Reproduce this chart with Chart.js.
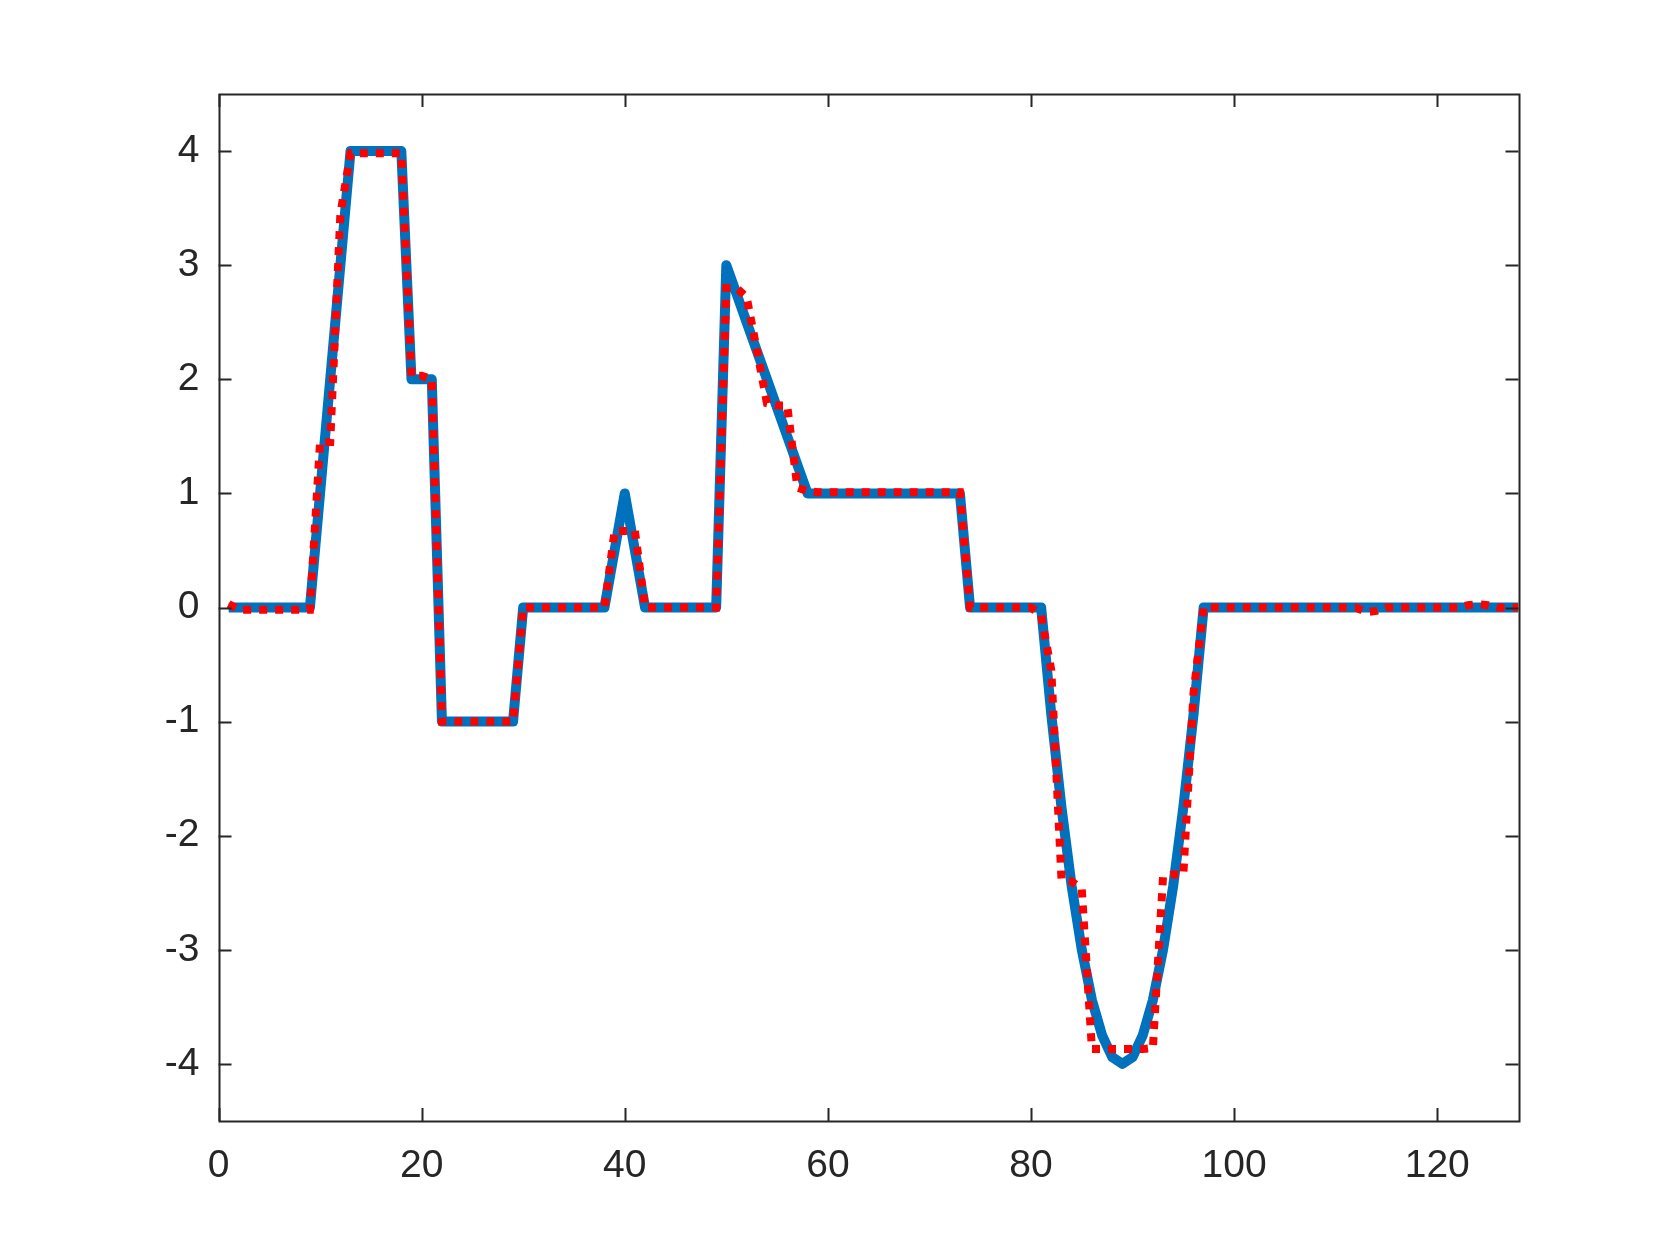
<!DOCTYPE html>
<html>
<head>
<meta charset="utf-8">
<script src="https://cdn.jsdelivr.net/npm/chart.js@4.4.1/dist/chart.umd.min.js"></script>
<style>
  html, body { margin: 0; padding: 0; background: #fff; }
  #wrap { width: 1680px; height: 1260px; }
</style>
</head>
<body>
<div id="wrap"><canvas id="plot" width="1680" height="1260"></canvas></div>
<script>
// Original test signal, samples 1..128
const originalSignal = [
  0, 0, 0, 0, 0, 0, 0, 0, 0,
  1, 2, 3, 4,
  4, 4, 4, 4, 4,
  2, 2, 2,
  -1, -1, -1, -1, -1, -1, -1, -1,
  0, 0, 0, 0, 0, 0, 0, 0, 0,
  0.5, 1, 0.5,
  0, 0, 0, 0, 0, 0, 0, 0,
  3, 2.75, 2.5, 2.25, 2, 1.75, 1.5, 1.25, 1,
  1, 1, 1, 1, 1, 1, 1, 1, 1, 1, 1, 1, 1, 1, 1,
  0, 0, 0, 0, 0, 0, 0, 0,
  -0.94, -1.75, -2.44, -3, -3.44, -3.75, -3.94, -4, -3.94, -3.75, -3.44, -3, -2.44, -1.75, -0.94,
  0, 0, 0, 0, 0, 0, 0, 0, 0, 0, 0, 0, 0, 0, 0, 0,
  0, 0, 0, 0, 0, 0, 0, 0, 0, 0, 0, 0, 0, 0, 0, 0
];

// Reconstructed (approximated) signal, samples 1..128
const approxSignal = [
  0.03, -0.02, -0.02, -0.02, -0.02, -0.02, -0.02, -0.02, -0.02,
  1.45, 1.45, 3.45, 3.98,
  3.98, 3.98, 3.98, 3.98, 3.98,
  2.03, 2.03, 2.0,
  -1, -1, -1, -1, -1, -1, -1, -1,
  0, 0, 0, 0, 0, 0, 0, 0, 0,
  0.67, 0.67, 0.67,
  0, 0, 0, 0, 0, 0, 0, 0,
  2.8, 2.8, 2.72, 2.26, 1.79, 1.77, 1.77, 1.05, 1.02,
  1.01, 1.01, 1.01, 1.01, 1.01, 1.01, 1.01, 1.01, 1.01, 1.01, 1.01, 1.01, 1.01, 1.01, 1.01,
  0, 0, 0, 0, 0, 0, 0, -0.07,
  -0.55, -2.38, -2.4, -2.47, -3.87, -3.87, -3.87, -3.87, -3.87, -3.87, -3.86, -2.36, -2.34, -2.34, -0.75,
  0, 0, 0, 0, 0, 0, 0, 0, 0, 0, 0, 0, 0, 0, 0, 0,
  -0.04, -0.03, 0, 0, 0, 0, 0, 0, 0, 0, 0.02, 0.03, 0.02, 0, 0, 0
];

const xTickValues = [0, 20, 40, 60, 80, 100, 120];
const yTickValues = [-4, -3, -2, -1, 0, 1, 2, 3, 4];
const xRange = [0, 128];
const yRange = [-4.5, 4.5];

const axisColor = '#262626';
const labelFont = { family: '"Liberation Sans", Arial, Helvetica, sans-serif', size: 39 };

// MATLAB-style box with inward ticks on all four sides
const boxAxes = {
  id: 'boxAxes',
  afterDatasetsDraw(chart) {
    const { ctx, chartArea: a, scales } = chart;
    const tick = 13;
    ctx.save();
    ctx.strokeStyle = axisColor;
    ctx.lineWidth = 2;
    ctx.beginPath();
    xTickValues.forEach(v => {
      const px = Math.round(scales.x.getPixelForValue(v)) + 0.5;
      ctx.moveTo(px, a.bottom); ctx.lineTo(px, a.bottom - tick);
      ctx.moveTo(px, a.top); ctx.lineTo(px, a.top + tick);
    });
    yTickValues.forEach(v => {
      const py = Math.round(scales.y.getPixelForValue(v)) + 0.5;
      ctx.moveTo(a.left, py); ctx.lineTo(a.left + tick, py);
      ctx.moveTo(a.right, py); ctx.lineTo(a.right - tick, py);
    });
    ctx.stroke();
    ctx.strokeRect(Math.round(a.left) + 0.5, Math.round(a.top) + 0.5,
      Math.round(a.right - a.left), Math.round(a.bottom - a.top));
    ctx.restore();
  }
};

new Chart(document.getElementById('plot'), {
  type: 'line',
  data: {
    datasets: [
      {
        label: 'original',
        data: originalSignal.map((v, i) => ({ x: i + 1, y: v })),
        borderColor: '#0072BD',
        borderWidth: 10,
        borderJoinStyle: 'round',
        borderCapStyle: 'butt',
        pointRadius: 0,
        tension: 0,
        fill: false,
        order: 2
      },
      {
        label: 'approximation',
        data: approxSignal.map((v, i) => ({ x: i + 1, y: v })),
        borderColor: '#FF0000',
        borderWidth: 8,
        borderDash: [8, 8],
        borderCapStyle: 'butt',
        pointRadius: 0,
        tension: 0,
        fill: false,
        order: 1
      }
    ]
  },
  options: {
    responsive: false,
    animation: false,
    devicePixelRatio: 1,
    layout: { padding: { top: 94, right: 161.5, left: 0, bottom: 0 } },
    plugins: { legend: { display: false }, tooltip: { enabled: false } },
    scales: {
      x: {
        type: 'linear',
        position: 'bottom',
        min: xRange[0],
        max: xRange[1],
        grid: { display: false, drawTicks: false, tickLength: 0 },
        border: { display: false },
        ticks: { font: labelFont, color: axisColor, padding: 22, maxRotation: 0 },
        afterBuildTicks: s => { s.ticks = xTickValues.map(v => ({ value: v })); },
        afterFit: s => { s.height = 139; }
      },
      y: {
        type: 'linear',
        min: yRange[0],
        max: yRange[1],
        grid: { display: false, drawTicks: false, tickLength: 0 },
        border: { display: false },
        ticks: { font: labelFont, color: axisColor, padding: 19 },
        afterBuildTicks: s => { s.ticks = yTickValues.map(v => ({ value: v })); },
        afterFit: s => { s.width = 218.5; }
      }
    }
  },
  plugins: [boxAxes]
});
</script>
</body>
</html>
